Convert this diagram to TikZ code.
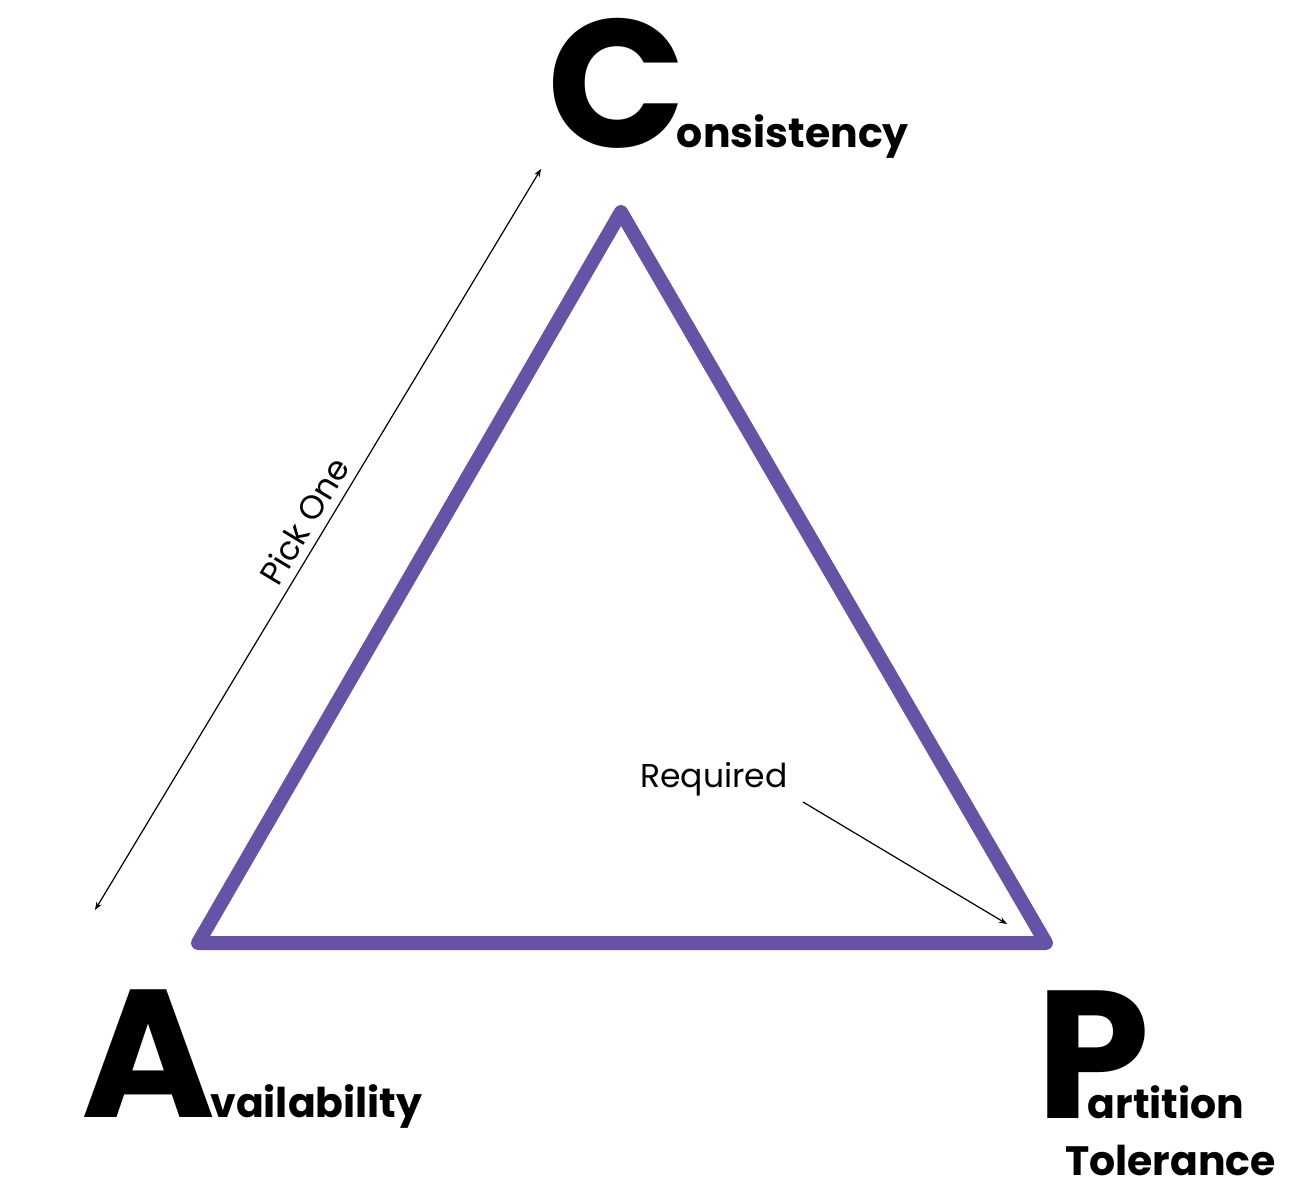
\documentclass[tikz,border=0pt]{standalone}
\usepackage{fontspec}
\setmainfont{Poppins}
\usetikzlibrary{arrows.meta}
\definecolor{cappurple}{RGB}{103,83,165}

\begin{document}
\begin{tikzpicture}[x=1pt,y=-1pt,>={Stealth[length=8pt,width=6pt]},
                    side/.style={draw=cappurple,line width=14pt,line join=round,line cap=round},
                    pointer/.style={->,line width=1.2pt},
                    big letter/.style={inner sep=0pt,anchor=base west,font=\bfseries},
                    note/.style={font=\fontsize{33}{38}\selectfont}]
  \useasboundingbox (0,0) rectangle (1294,1188);

  \coordinate (c) at (621,212);
  \coordinate (a) at (198,943);
  \coordinate (p) at (1046,943);
  \draw[side] (c) -- (a) -- (p) -- cycle;

  \node[big letter] (cons) at (547,148)
    {{\fontsize{182}{184}\selectfont C}\kern-9pt{\fontsize{41}{44}\selectfont onsistency}};
  \node[big letter] (avail) at (81,1117)
    {{\fontsize{182}{184}\selectfont A}\kern-5pt{\fontsize{41}{44}\selectfont vailability}};
  \node[big letter] (part) at (1036,1118)
    {{\fontsize{182}{184}\selectfont P}\kern-62pt{\fontsize{41}{44}\selectfont artition}};
  \node[big letter,font=\bfseries\fontsize{41}{44}\selectfont] (tol) at (1065,1175) {Tolerance};

  \coordinate (pickfrom) at (541,169);
  \coordinate (pickto) at (95,910);
  \draw[pointer,<->] (pickto) -- node[note,sloped,above=5pt,pos=0.51] {Pick One} (pickfrom);

  \node[note] (req) at (714,779) {Required};
  \coordinate (reqfrom) at (803,802);
  \coordinate (reqto) at (1007,924);
  \draw[pointer] (reqfrom) -- (reqto);
\end{tikzpicture}
\end{document}
